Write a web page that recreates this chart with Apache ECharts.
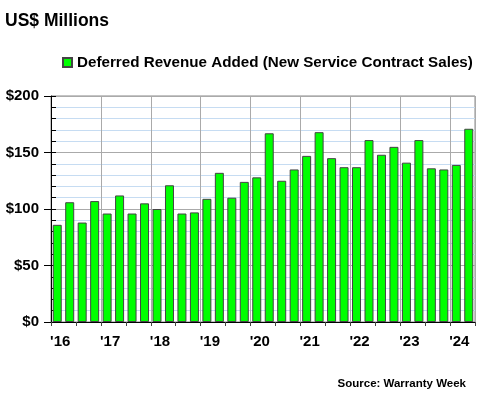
<!DOCTYPE html>
<html><head><meta charset="utf-8">
<script src="https://cdn.jsdelivr.net/npm/echarts@6/dist/echarts.min.js"></script>
<style>html,body{margin:0;padding:0;background:#fff}#c{width:480px;height:400px}</style>
</head><body><div id="c"></div>
<script>
var years = ['16','17','18','19','20','21','22','23','24'];
var quarters = ['Q1','Q2','Q3','Q4'];
var categories = [];
years.forEach(function(y){ quarters.forEach(function(q){ categories.push("'" + y + ' ' + q); }); });
categories = categories.slice(0, 34);
var deferredRevenue = [86,106,88,107,96,112,96,105,100,121,96,97,109,132,110,124,
  128,167,125,135,147,168,145,137,137,161,148,155,141,161,136,135,139,171];
var yTicks = [0,50,100,150,200];
var FONT = "'Liberation Sans', Arial, sans-serif";

var chart = echarts.init(document.getElementById('c'));
chart.setOption({
  animation: false,
  textStyle: {fontFamily: FONT},
  title: [
    {text: 'US$ Millions', left: 0, top: 7, textStyle: {fontFamily: FONT, fontSize: 17.5, fontWeight: 'bold', color: '#000'}},
    {text: 'Source: Warranty Week', right: 9, top: 373, textStyle: {fontFamily: FONT, fontSize: 11.5, fontWeight: 'bold', color: '#000'}}
  ],
  legend: {
    left: 57, top: 50, itemWidth: 9, itemHeight: 9, itemGap: 4,
    icon: 'rect',
    textStyle: {fontFamily: FONT, fontSize: 15.2, fontWeight: 'bold', color: '#000'},
    data: ['Deferred Revenue Added (New Service Contract Sales)']
  },
  grid: {left: 51, right: 5, top: 96, bottom: 78, show: true, borderColor: '#888', borderWidth: 1},
  xAxis: {
    type: 'category', data: categories, boundaryGap: true,
    axisLine: {lineStyle: {color: '#000', width: 1}},
    axisTick: {show: true, length: 4, interval: function(i){ return i % 2 === 0; }, lineStyle: {color: '#444'}},
    axisLabel: {
      interval: 0, margin: 12, color: '#000', fontFamily: FONT, fontSize: 15, fontWeight: 'bold',
      padding: [0,0,0,6],
      formatter: function(v, i){ return i % 4 === 0 ? v.split(' ')[0] : ''; }
    },
    splitLine: {show: true, interval: function(i){ return i % 4 === 0; }, lineStyle: {color: '#aaa', width: 1}}
  },
  yAxis: [
    {
      type: 'value', min: 0, max: 200, interval: 50,
      axisLine: {show: true, lineStyle: {color: '#000', width: 1}},
      axisTick: {show: true, inside: true, length: 5, lineStyle: {color: '#000'}},
      minorTick: {show: true, splitNumber: 5, length: 5, lineStyle: {color: '#000'}},
      axisLabel: {margin: 12, color: '#000', fontFamily: FONT, fontSize: 15, fontWeight: 'bold',
        formatter: function(v){ return yTicks.indexOf(v) >= 0 ? '$' + v : ''; }},
      splitLine: {show: true, lineStyle: {color: '#aaa', width: 1}},
      minorSplitLine: {show: true, lineStyle: {color: '#c6dcf2', width: 1}}
    },
    {
      type: 'value', min: 0, max: 200, interval: 50, position: 'left', offset: 0,
      axisLine: {show: false},
      axisTick: {show: true, inside: false, length: 7, lineStyle: {color: '#000'}},
      axisLabel: {show: false},
      splitLine: {show: false}
    }
  ],
  series: [{
    name: 'Deferred Revenue Added (New Service Contract Sales)',
    type: 'bar', data: deferredRevenue, barWidth: 9,
    itemStyle: {color: '#00ff00', borderColor: '#444', borderWidth: 1}
  }]
});
</script></body></html>
